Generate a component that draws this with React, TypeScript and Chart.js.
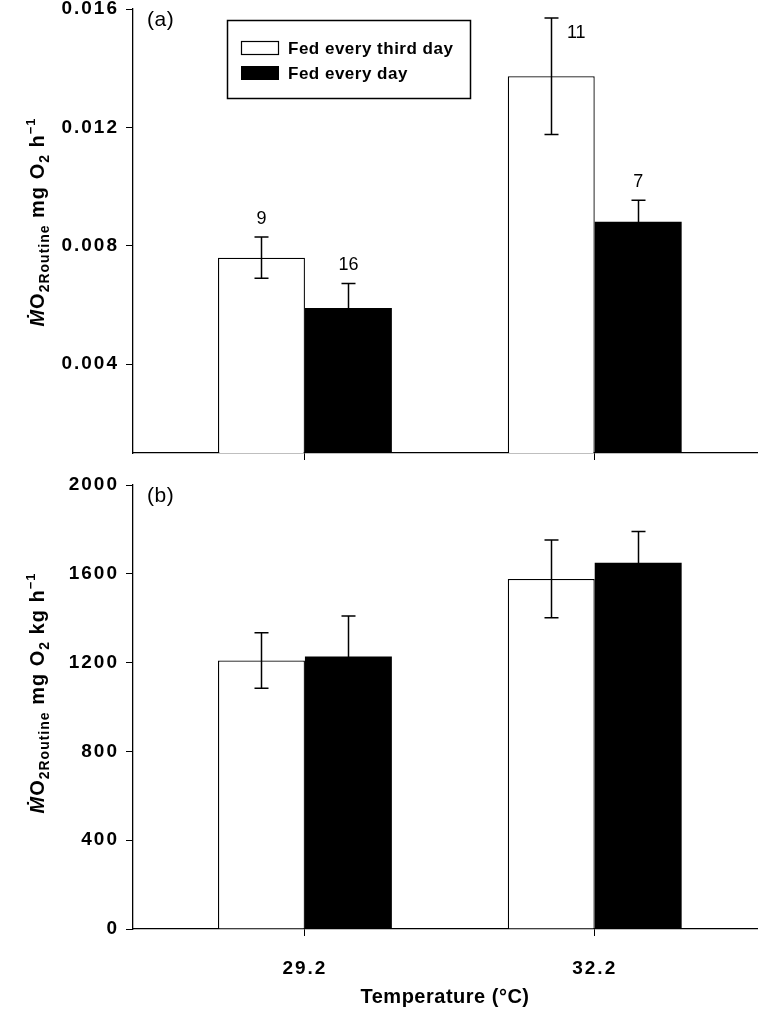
import React, { useEffect, useRef } from 'react';
import { Chart, registerables } from 'chart.js';

Chart.register(...registerables);

// ---------- data ----------
const temperatures = [29.2, 32.2];
const seriesLabels = ['Fed every third day', 'Fed every day'];

// panel (a): routine MO2 (mg O2 h-1)
const wholeThird = [0.0076, 0.01373];
const wholeThirdSE = [0.0007, 0.00197];
const wholeDaily = [0.0059, 0.00881];
const wholeDailySE = [0.00083, 0.00073];
const nThird = [9, 11];
const nDaily = [16, 7];

// panel (b): mass-specific routine MO2 (mg O2 kg-1 h-1)
const specThird = [1210, 1577];
const specThirdSE = [125, 175];
const specDaily = [1228, 1650];
const specDailySE = [182, 140];

const wholeTicks = [0.004, 0.008, 0.012, 0.016];
const specTicks = [0, 400, 800, 1200, 1600, 2000];
const xRange = [27.42, 33.88];

// ---------- styling ----------
const FAM = "'Liberation Sans', Arial, Helvetica, sans-serif";
const TICK_SPACING = '2px';

type Panel = {
  height: number;
  padTop: number;
  xHeight: number;
  values: number[][];
  errors: number[][];
  counts: number[][] | null;
  yMin: number;
  yMax: number;
  yTicks: number[];
  yDecimals: number;
  showXLabels: boolean;
  panelLabel: string;
  unitParts: { t: string; kind: string }[];
  titleCenter: number;
  legend: boolean;
  xTitle: string | null;
};

const topPanel: Panel = {
  height: 470,
  padTop: 9,
  xHeight: 17,
  values: [wholeThird, wholeDaily],
  errors: [wholeThirdSE, wholeDailySE],
  counts: [nThird, nDaily],
  yMin: 0.001,
  yMax: 0.016,
  yTicks: wholeTicks,
  yDecimals: 3,
  showXLabels: false,
  panelLabel: '(a)',
  unitParts: [
    { t: 'Ṁ', kind: 'italic' },
    { t: 'O', kind: 'big' },
    { t: '2Routine', kind: 'sub' },
    { t: ' mg O', kind: 'big' },
    { t: '2', kind: 'sub' },
    { t: ' h', kind: 'big' },
    { t: '−1', kind: 'sup' },
  ],
  titleCenter: 222,
  legend: true,
  xTitle: null,
};

const bottomPanel: Panel = {
  height: 540,
  padTop: 15,
  xHeight: 81,
  values: [specThird, specDaily],
  errors: [specThirdSE, specDailySE],
  counts: null,
  yMin: 0,
  yMax: 2000,
  yTicks: specTicks,
  yDecimals: 0,
  showXLabels: true,
  panelLabel: '(b)',
  unitParts: [
    { t: 'Ṁ', kind: 'italic' },
    { t: 'O', kind: 'big' },
    { t: '2Routine', kind: 'sub' },
    { t: ' mg O', kind: 'big' },
    { t: '2', kind: 'sub' },
    { t: ' kg h', kind: 'big' },
    { t: '−1', kind: 'sup' },
  ],
  titleCenter: 223,
  legend: false,
  xTitle: 'Temperature (°C)',
};

function fontFor(kind: string) {
  if (kind === 'italic') return `italic bold 20px ${FAM}`;
  if (kind === 'sub') return `bold 14px ${FAM}`;
  if (kind === 'sup') return `bold 13px ${FAM}`;
  return `bold 20px ${FAM}`;
}
function dyFor(kind: string) {
  if (kind === 'sub') return 5;
  if (kind === 'sup') return -9;
  return 0;
}

function buildConfig(p: Panel): any {
  const grid = {
    display: true,
    drawOnChartArea: false,
    drawTicks: true,
    tickLength: 7,
    color: '#000',
    lineWidth: 1,
    offset: false,
  };
  const border = { display: true, color: '#000', width: 1.3 };
  const tickFont = { family: FAM, size: 19, weight: 'bold' as const };

  const errorBars = {
    id: 'errorBars',
    afterDatasetsDraw(chart: any) {
      const ctx = chart.ctx;
      const y = chart.scales.y;
      ctx.save();
      ctx.strokeStyle = '#000';
      ctx.lineWidth = 1.5;
      chart.data.datasets.forEach((ds: any, d: number) => {
        const meta = chart.getDatasetMeta(d);
        meta.data.forEach((el: any, i: number) => {
          const v = p.values[d][i];
          const se = p.errors[d][i];
          const yt = y.getPixelForValue(v + se);
          const yb = y.getPixelForValue(v - se);
          const x = Math.round(el.x) + 0.5;
          ctx.beginPath();
          ctx.moveTo(x, yt);
          ctx.lineTo(x, yb);
          ctx.moveTo(x - 7, yt);
          ctx.lineTo(x + 7, yt);
          ctx.moveTo(x - 7, yb);
          ctx.lineTo(x + 7, yb);
          ctx.stroke();
        });
      });
      ctx.restore();
    },
  };

  const spacing = {
    id: 'tickSpacing',
    beforeDraw(chart: any) {
      chart.ctx.letterSpacing = TICK_SPACING;
    },
    beforeDatasetsDraw(chart: any) {
      chart.ctx.letterSpacing = '0px';
    },
  };

  const annotations = {
    id: 'annotations',
    afterDraw(chart: any) {
      const ctx = chart.ctx;
      const area = chart.chartArea;
      const y = chart.scales.y;
      ctx.save();
      ctx.fillStyle = '#000';
      ctx.strokeStyle = '#000';

      // panel label
      ctx.letterSpacing = '0.5px';
      ctx.font = `21px ${FAM}`;
      ctx.textAlign = 'left';
      ctx.textBaseline = 'middle';
      ctx.fillText(p.panelLabel, area.left + 14, area.top + 11);

      // sample sizes
      if (p.counts) {
        ctx.letterSpacing = '0px';
        ctx.font = `18px ${FAM}`;
        ctx.textAlign = 'center';
        chart.data.datasets.forEach((ds: any, d: number) => {
          const meta = chart.getDatasetMeta(d);
          meta.data.forEach((el: any, i: number) => {
            const yt = y.getPixelForValue(p.values[d][i] + p.errors[d][i]);
            const label = String(p.counts![d][i]);
            if (yt - 18 < area.top + 12) {
              ctx.fillText(label, el.x + 25, yt + 15);
            } else {
              ctx.fillText(label, el.x, yt - 18);
            }
          });
        });
      }

      // legend
      if (p.legend) {
        ctx.lineWidth = 1.5;
        ctx.strokeRect(227.5, 20.5, 243, 78);
        const rows = [48, 73];
        seriesLabels.forEach((lab, d) => {
          const ry = rows[d];
          ctx.lineWidth = 1.2;
          if (d === 0) {
            ctx.fillStyle = '#fff';
            ctx.fillRect(241.5, ry - 6.5, 37, 13);
            ctx.strokeRect(241.5, ry - 6.5, 37, 13);
          } else {
            ctx.fillStyle = '#000';
            ctx.fillRect(241, ry - 7, 38, 14);
          }
          ctx.fillStyle = '#000';
          ctx.letterSpacing = '0.5px';
          ctx.font = `bold 17px ${FAM}`;
          ctx.textAlign = 'left';
          ctx.textBaseline = 'middle';
          ctx.fillText(lab, 288, ry + 1);
        });
      }

      // y title (rotated, rich text)
      ctx.letterSpacing = '1px';
      ctx.textAlign = 'left';
      ctx.textBaseline = 'alphabetic';
      let total = 0;
      const widths = p.unitParts.map((part) => {
        ctx.font = fontFor(part.kind);
        const w = ctx.measureText(part.t).width;
        total += w;
        return w;
      });
      ctx.translate(44, p.titleCenter);
      ctx.rotate(-Math.PI / 2);
      let cx = -total / 2;
      p.unitParts.forEach((part, k) => {
        ctx.font = fontFor(part.kind);
        ctx.fillText(part.t, cx, dyFor(part.kind));
        cx += widths[k];
      });
      ctx.setTransform(1, 0, 0, 1, 0, 0);

      // x title
      if (p.xTitle) {
        ctx.letterSpacing = '0.5px';
        ctx.font = `bold 20px ${FAM}`;
        ctx.textAlign = 'center';
        ctx.textBaseline = 'middle';
        ctx.fillText(p.xTitle, (area.left + area.right) / 2, 527);
      }
      ctx.restore();
    },
  };

  return {
    type: 'bar',
    data: {
      datasets: seriesLabels.map((label, d) => ({
        label,
        data: temperatures.map((t, i) => ({ x: t, y: p.values[d][i] })),
        backgroundColor: d === 0 ? '#ffffff' : '#000000',
        borderColor: '#000000',
        borderWidth: d === 0 ? 1.3 : 0,
        categoryPercentage: 0.6,
        barPercentage: 1,
      })),
    },
    options: {
      responsive: false,
      animation: false,
      devicePixelRatio: 1,
      layout: { padding: { top: p.padTop, right: 14, left: 0, bottom: 0 } },
      plugins: { legend: { display: false }, tooltip: { enabled: false } },
      scales: {
        x: {
          type: 'linear',
          min: xRange[0],
          max: xRange[1],
          offset: false,
          grid,
          border,
          ticks: {
            display: p.showXLabels,
            color: '#000',
            font: tickFont,
            padding: 21,
            maxRotation: 0,
            callback: (v: any) => Number(v).toFixed(1),
          },
          afterBuildTicks: (s: any) => {
            s.ticks = temperatures.map((v) => ({ value: v }));
          },
          afterFit: (s: any) => {
            s.height = p.xHeight;
            s.paddingLeft = 0;
            s.paddingRight = 0;
          },
        },
        y: {
          type: 'linear',
          min: p.yMin,
          max: p.yMax,
          grid,
          border,
          ticks: {
            color: '#000',
            font: tickFont,
            padding: 7,
            callback: (v: any) => Number(v).toFixed(p.yDecimals),
          },
          afterBuildTicks: (s: any) => {
            s.ticks = p.yTicks.map((v) => ({ value: v }));
          },
          afterFit: (s: any) => {
            s.width = 133;
            s.paddingTop = 0;
            s.paddingBottom = 0;
          },
        },
      },
    },
    plugins: [spacing, errorBars, annotations],
  };
}

function PanelChart({ panel, top }: { panel: Panel; top: number }) {
  const ref = useRef<HTMLCanvasElement | null>(null);
  useEffect(() => {
    if (!ref.current) return;
    const chart = new Chart(ref.current, buildConfig(panel));
    return () => chart.destroy();
  }, [panel]);
  return (
    <canvas
      ref={ref}
      width={771}
      height={panel.height}
      style={{ position: 'absolute', left: 0, top, width: 771, height: panel.height }}
    />
  );
}

export default function App() {
  return (
    <div
      style={{
        position: 'absolute',
        left: 0,
        top: 0,
        width: 771,
        height: 1010,
        background: '#fff',
        overflow: 'hidden',
      }}
    >
      <PanelChart panel={topPanel} top={0} />
      <PanelChart panel={bottomPanel} top={470} />
    </div>
  );
}
